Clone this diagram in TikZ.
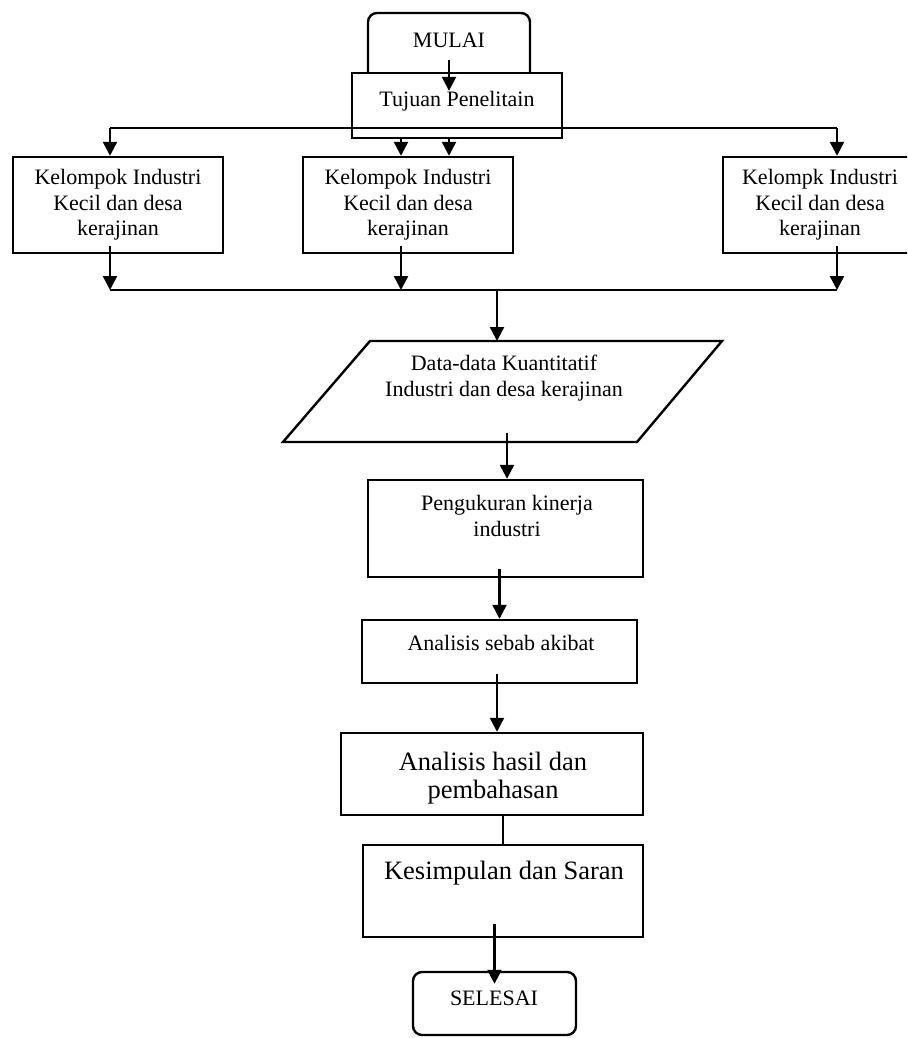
\documentclass[tikz,border=0pt]{standalone}
\usepackage{fontspec}
\setmainfont{Liberation Serif}
\usetikzlibrary{arrows.meta}
\tikzset{
  box/.style={draw, line width=2.4pt, fill=white, inner sep=0pt, align=center, font=\fontsize{22}{25.5}\selectfont},
  rbox/.style={box, rounded corners=9pt},
  lbl/.style={align=center, inner sep=0pt, font=\fontsize{22}{25.5}\selectfont},
  biglbl/.style={align=center, inner sep=0pt, font=\fontsize{26.5}{27.5}\selectfont},
  arr/.style={line width=2.4pt, -{Triangle[width=14pt,length=14pt]}},
  ln/.style={line width=2.4pt},
}
\begin{document}
\begin{tikzpicture}[x=1pt,y=-1pt]
\useasboundingbox (0,0) rectangle (907,1038);
\clip (0,0) rectangle (907,1038);
%\draw[step=50,gray,very thin] (0,0) grid (907,1038);
\node[rbox, minimum width=162pt, minimum height=86pt] (mulai) at (449,56) {};
\node[lbl] (mulaitxt) at (449,40) {MULAI};
\node[box, minimum width=210pt, minimum height=65pt] (tujuan) at (457,105.5) {};
\node[lbl] (tujuantxt) at (457,101) {Tujuan Penelitain};
\node[box, minimum width=210pt, minimum height=96pt] (kel1) at (118,205) {Kelompok Industri\\Kecil dan desa\\kerajinan};
\node[box, minimum width=210pt, minimum height=96pt] (kel2) at (408,205) {Kelompok Industri\\Kecil dan desa\\kerajinan};
\node[box, minimum width=194pt, minimum height=96pt] (kel3) at (820,205) {Kelompk Industri\\Kecil dan desa\\kerajinan};
\coordinate (jl) at (110,128);
\coordinate (jr) at (837,128);
\coordinate (kl) at (110,290);
\coordinate (km) at (401,290);
\coordinate (kr) at (837,290);
\coordinate (kc) at (497,290);
\coordinate (d1) at (283,442);
\coordinate (d2) at (370,341);
\coordinate (d3) at (722,341);
\coordinate (d4) at (637,442);
\draw[ln, line join=miter] (d1) -- (d2) -- (d3) -- (d4) -- cycle;
\node[lbl] (datatxt) at (504,378) {Data-data Kuantitatif\\Industri dan desa kerajinan};
\node[box, minimum width=275pt, minimum height=97pt] (peng) at (505.5,528.5) {};
\node[lbl] (pengtxt) at (507,516) {Pengukuran kinerja\\industri};
\node[box, minimum width=275pt, minimum height=63pt] (sebab) at (499.5,651.5) {};
\node[lbl] (sebabtxt) at (501,643) {Analisis sebab akibat};
\node[box, minimum width=302pt, minimum height=82pt] (hasil) at (492,774) {};
\node[biglbl] (hasiltxt) at (493,778) {Analisis hasil dan\\pembahasan};
\node[box, minimum width=280pt, minimum height=92pt] (simpul) at (503,891) {};
\node[biglbl] (simpultxt) at (504,873) {Kesimpulan dan Saran};
\node[rbox, minimum width=163pt, minimum height=63pt] (selesai) at (494.5,1003.5) {};
\node[lbl] (selesaitxt) at (494,998) {SELESAI};
% connectors
\draw[arr] ([yshift=-12pt]mulaitxt.south) -- (mulaitxt.south |- tujuantxt.north);
\draw[ln] (jl) -- (jr);
\draw[arr] (jl) -- (jl |- kel1.north);
\draw[arr] (jr) -- (jr |- kel3.north);
\draw[arr] (tujuan.south -| km) -- (kel2.north -| km);
\draw[arr] (tujuan.south -| mulai) -- (kel2.north -| mulai);
\draw[arr] ([yshift=8pt]kel1.south -| kl) -- (kl);
\draw[arr] ([yshift=8pt]kel2.south -| km) -- (km);
\draw[arr] ([yshift=8pt]kel3.south -| kr) -- (kr);
\draw[ln] (kl) -- (kr);
\draw[arr] (kc) -- (kc |- d2);
\draw[arr] ([yshift=9pt]d1 -| pengtxt) -- (pengtxt |- peng.north);
\draw[arr] ([yshift=9pt]peng.south -| sebab) -- (sebab.north);
\draw[arr] ([yshift=10pt]sebab.south -| kc) -- (kc |- hasil.north);
\draw[ln] (hasil.south -| simpul) -- (simpul.north);
\draw[arr] ([yshift=14pt]simpul.south -| selesai) -- ([yshift=-13pt]selesai.north);
\end{tikzpicture}
\end{document}
